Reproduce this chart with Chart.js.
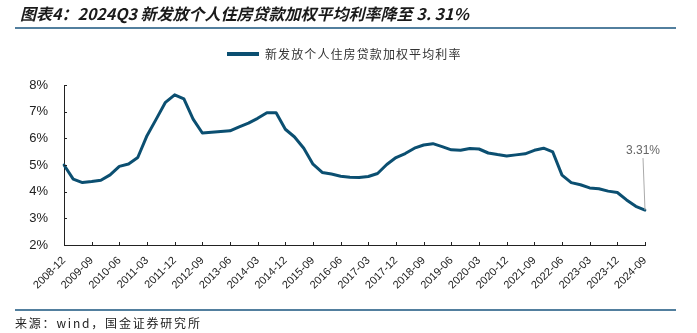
<!DOCTYPE html>
<html>
<head>
<meta charset="utf-8">
<script src="https://cdn.jsdelivr.net/npm/chart.js@4.4.1/dist/chart.umd.min.js"></script>
<style>
  html, body { margin: 0; padding: 0; background: #fff; }
  #wrap { position: relative; width: 697px; height: 333px; overflow: hidden; }
  #chart { position: absolute; left: 0; top: 0; }
  .rule { position: absolute; left: 15px; width: 661px; height: 2px; background: #527f9e; }
  #title { position: absolute; left: 20px; top: 3px; font: italic bold 16px "Noto Sans CJK SC", sans-serif;
           color: #1a1a1a; letter-spacing: 0px; white-space: nowrap; line-height: 20px; }
  #legend { position: absolute; left: 227px; top: 45px; height: 18px; white-space: nowrap; }
  #legend .swatch { position: absolute; left: 0; top: 7px; width: 32px; height: 4px; background: #0b4f71; }
  #legend .txt { position: absolute; left: 38px; top: 0; font: 12px "Noto Sans CJK SC", sans-serif;
                 color: #333; letter-spacing: 1.1px; line-height: 18px; }
  #source { position: absolute; left: 15px; top: 314px; font: 12px "Noto Sans CJK SC", sans-serif;
            color: #222; letter-spacing: 1.8px; white-space: nowrap; line-height: 18px; }
</style>
</head>
<body>
<div id="wrap">
  <canvas id="chart" width="697" height="333"></canvas>
  <div id="title">图表4：2024Q3 新发放个人住房贷款加权平均利率降至 3. 31%</div>
  <div class="rule" style="top:27px"></div>
  <div id="legend"><div class="swatch"></div><div class="txt">新发放个人住房贷款加权平均利率</div></div>
  <div class="rule" style="top:309px"></div>
  <div id="source">来源：wind，国金证券研究所</div>
</div>
<script>
// 季度末
const quarters = [
  '2008-12',
  '2009-03', '2009-06', '2009-09', '2009-12',
  '2010-03', '2010-06', '2010-09', '2010-12',
  '2011-03', '2011-06', '2011-09', '2011-12',
  '2012-03', '2012-06', '2012-09', '2012-12',
  '2013-03', '2013-06', '2013-09', '2013-12',
  '2014-03', '2014-06', '2014-09', '2014-12',
  '2015-03', '2015-06', '2015-09', '2015-12',
  '2016-03', '2016-06', '2016-09', '2016-12',
  '2017-03', '2017-06', '2017-09', '2017-12',
  '2018-03', '2018-06', '2018-09', '2018-12',
  '2019-03', '2019-06', '2019-09', '2019-12',
  '2020-03', '2020-06', '2020-09', '2020-12',
  '2021-03', '2021-06', '2021-09', '2021-12',
  '2022-03', '2022-06', '2022-09', '2022-12',
  '2023-03', '2023-06', '2023-09', '2023-12',
  '2024-03', '2024-06', '2024-09'
];

// 新发放个人住房贷款加权平均利率（%）
const mortgageRate = [
  5.00,
  4.47, 4.34, 4.38, 4.43,
  4.63, 4.95, 5.04, 5.28,
  6.10, 6.72, 7.35, 7.63,
  7.48, 6.72, 6.20, 6.23,
  6.26, 6.28, 6.43, 6.57,
  6.75, 6.96, 6.96, 6.34,
  6.05, 5.63, 5.03, 4.72,
  4.66, 4.58, 4.54, 4.53,
  4.57, 4.68, 5.02, 5.28,
  5.43, 5.63, 5.75, 5.80,
  5.69, 5.57, 5.55, 5.62,
  5.60, 5.45, 5.39, 5.34,
  5.38, 5.42, 5.55, 5.63,
  5.49, 4.62, 4.34, 4.26,
  4.14, 4.11, 4.02, 3.97,
  3.69, 3.45, 3.31
];

const yTicks = [2, 3, 4, 5, 6, 7, 8];
const LABEL_EVERY = 3;
const LINE_COLOR = '#0b4f71';

// 坐标轴内侧的短刻度 + 末值标注
const axisMarks = {
  id: 'axisMarks',
  afterDatasetsDraw(chart) {
    const { ctx, chartArea, scales } = chart;
    ctx.save();
    ctx.strokeStyle = '#222';
    ctx.lineWidth = 1;
    ctx.beginPath();
    quarters.forEach((q, i) => {
      if (i % LABEL_EVERY !== 0) return;
      const x = Math.round(scales.x.getPixelForValue(i)) + 0.5;
      ctx.moveTo(x, chartArea.bottom);
      ctx.lineTo(x, chartArea.bottom - 3);
    });
    yTicks.forEach(v => {
      const y = Math.round(scales.y.getPixelForValue(v)) + 0.5;
      ctx.moveTo(chartArea.left, y);
      ctx.lineTo(chartArea.left + 3, y);
    });
    ctx.stroke();

    // 最新一期数值
    const last = mortgageRate.length - 1;
    const px = scales.x.getPixelForValue(last);
    const py = scales.y.getPixelForValue(mortgageRate[last]);
    ctx.strokeStyle = '#aaa';
    ctx.beginPath();
    ctx.moveTo(px - 2, py - 52);
    ctx.lineTo(px, py);
    ctx.stroke();
    ctx.fillStyle = '#666';
    ctx.font = '12px "Liberation Sans", Arial, sans-serif';
    ctx.textAlign = 'center';
    ctx.textBaseline = 'bottom';
    ctx.fillText(mortgageRate[last].toFixed(2) + '%', px - 2, py - 53);
    ctx.restore();
  }
};

new Chart(document.getElementById('chart'), {
  type: 'line',
  data: {
    labels: quarters,
    datasets: [{
      label: '新发放个人住房贷款加权平均利率',
      data: mortgageRate,
      borderColor: LINE_COLOR,
      borderWidth: 3,
      borderJoinStyle: 'round',
      borderCapStyle: 'round',
      pointRadius: 0,
      tension: 0,
      fill: false
    }]
  },
  options: {
    responsive: false,
    animation: false,
    layout: { padding: { left: 0, right: 52, top: 85, bottom: 0 } },
    plugins: { legend: { display: false }, tooltip: { enabled: false } },
    scales: {
      x: {
        offset: false,
        grid: { display: false },
        border: { display: true, color: '#222', width: 1 },
        afterFit: s => { s.height = 88; },
        ticks: {
          autoSkip: false,
          minRotation: 45,
          maxRotation: 45,
          padding: 1,
          color: '#222',
          font: { family: '"Liberation Sans", Arial, sans-serif', size: 11 },
          callback: (v, i) => (i % LABEL_EVERY === 0 ? quarters[i] : null)
        }
      },
      y: {
        min: 2,
        max: 8,
        grid: { display: false },
        border: { display: true, color: '#222', width: 1 },
        afterFit: s => { s.width = 64; },
        ticks: {
          stepSize: 1,
          padding: 8,
          color: '#222',
          font: { family: '"Liberation Sans", Arial, sans-serif', size: 13 },
          callback: v => v + '%'
        }
      }
    }
  },
  plugins: [axisMarks]
});
</script>
</body>
</html>
